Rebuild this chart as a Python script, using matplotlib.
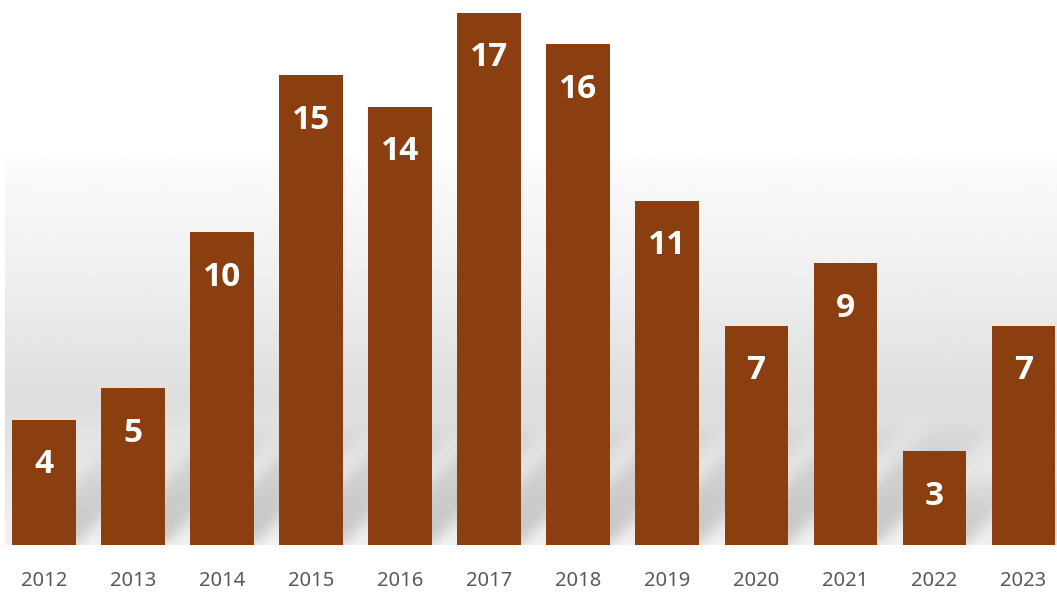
import numpy as np
import matplotlib.pyplot as plt

years = ['2012', '2013', '2014', '2015', '2016', '2017',
         '2018', '2019', '2020', '2021', '2022', '2023']
counts = [4, 5, 10, 15, 14, 17, 16, 11, 7, 9, 3, 7]

bar_color = '#8B3E0F'
label_font = ['Open Sans', 'DejaVu Sans']
tick_font = ['Noto Sans', 'DejaVu Sans']

W, H = 1057, 600
fig = plt.figure(figsize=(W / 100, H / 100), dpi=100)
ax = fig.add_axes([0, 55 / H, 1, 545 / H])
xmin, xmax = -0.494, 11.38
ymax = 17.41
ax.set_xlim(xmin, xmax)
ax.set_ylim(0, ymax)

x = np.arange(len(years))
w = 0.71

# soft grey backdrop behind the bars
grad_top = 12.35
ys = np.linspace(0, 1, 256)
vals = np.interp(ys, [0, 0.1, 0.38, 0.7, 1.0], [0.96, 0.93, 0.87, 0.94, 0.985])
img = np.repeat(vals[::-1, None], 2, axis=1)
ax.imshow(img, cmap='gray', vmin=0, vmax=1, aspect='auto',
          extent=(-0.44, xmax, 0, grad_top), zorder=0, interpolation='bicubic')

# diagonal blurred shadows behind each bar (built on a pixel grid)
nx, ny = 1057, 545
px_per_x = nx / (xmax - xmin)
px_per_y = ny / ymax
gx = np.arange(nx)[None, :].astype(float)
gy = np.arange(ny)[:, None].astype(float)   # 0 = baseline, going up
mask = np.zeros((ny, nx))
for xi, h in zip(x, counts):
    x0 = (xi - w / 2 - xmin) * px_per_x
    x1 = (xi + w / 2 - xmin) * px_per_x
    L = min(0.75 * h * px_per_y, 125)
    inside = (gy <= L) & (gx >= x0 + gy) & (gx <= x1 + gy)
    fade = np.clip(1 - gy / L, 0, 1) ** 0.6
    mask = np.maximum(mask, inside * fade)

k = np.exp(-0.5 * (np.arange(-20, 21) / 7.0) ** 2)
k /= k.sum()
mask = np.apply_along_axis(lambda r: np.convolve(r, k, mode='same'), 1, mask)
mask = np.apply_along_axis(lambda c: np.convolve(c, k, mode='same'), 0, mask)

shadow = np.zeros((ny, nx, 4))
shadow[..., :3] = 0.55
shadow[..., 3] = np.clip(mask, 0, 1) * 0.45
ax.imshow(shadow[::-1], aspect='auto', extent=(xmin, xmax, 0, ymax),
          zorder=1, interpolation='bilinear')

ax.bar(x, counts, width=w, color=bar_color, zorder=2)

for xi, h in zip(x, counts):
    ax.text(xi, h - 1.44, str(h), ha='center', va='center', color='white',
            fontsize=24, fontweight='bold', family=label_font, zorder=3)

ax.set_xticks(x)
ax.set_xticklabels(years, fontsize=14.5, color='#595959', family=tick_font)
ax.tick_params(axis='x', length=0, pad=19)
ax.set_yticks([])
for sp in ax.spines.values():
    sp.set_visible(False)
ax.set_facecolor('none')

fig.savefig('out.png', dpi=100)
